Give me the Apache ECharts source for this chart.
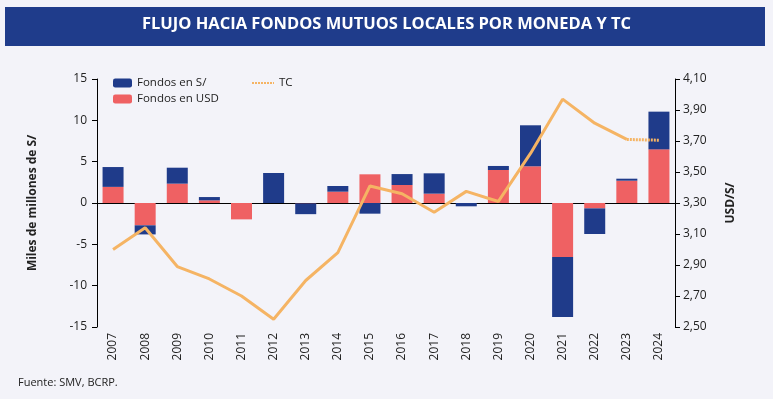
<!DOCTYPE html>
<html lang="es">
<head>
<meta charset="UTF-8">
<script src="https://cdn.jsdelivr.net/npm/echarts@6/dist/echarts.min.js"></script>
<title>Flujo hacia fondos mutuos locales</title>
<style>
  html, body { margin: 0; padding: 0; background: #f3f3f9; }
  #main { width: 773px; height: 399px; }
</style>
</head>
<body>
<div id="main"></div>
<script>
    // datos (miles de millones de S/ y TC fin de periodo)
    var years = ['2007', '2008', '2009', '2010', '2011', '2012', '2013', '2014', '2015',
                 '2016', '2017', '2018', '2019', '2020', '2021', '2022', '2023', '2024'];
    var fondosSoles = [2.4, -1.1, 1.93, 0.4, 0, 3.63, -1.3, 0.69, -1.29,
                       1.32, 2.46, -0.4, 0.49, 4.96, -7.26, -3.1, 0.24, 4.56];
    var fondosUSD = [1.95, -2.7, 2.34, 0.32, -1.98, 0, -0.05, 1.37, 3.47,
                     2.18, 1.13, 0, 3.99, 4.44, -6.53, -0.65, 2.7, 6.49];
    var tc = [3.00, 3.14, 2.89, 2.81, 2.70, 2.55, 2.80, 2.98, 3.41,
              3.36, 3.24, 3.375, 3.31, 3.62, 3.97, 3.815, 3.71, 3.705];

    var blue = '#1f3b8a';
    var red = '#ef6163';
    var orange = '#f5b464';
    var font = 'Open Sans';

    // la linea solida llega hasta 2023, el ultimo tramo va punteado
    var tcSolid = tc.map(function (v, i) { return i < tc.length - 1 ? v : '-'; });
    var tcDotted = tc.map(function (v, i) { return i >= tc.length - 2 ? v : '-'; });

    var chart = echarts.init(document.getElementById('main'));
    var option = {
        backgroundColor: '#f3f3f9',
        animation: false,
        textStyle: { fontFamily: font },
        graphic: [
            {
                type: 'rect',
                left: 5, top: 7,
                shape: { width: 760, height: 39 },
                style: { fill: '#1f3c8b' }
            },
            {
                type: 'text',
                left: 'center', top: 16,
                style: {
                    text: 'FLUJO HACIA FONDOS MUTUOS LOCALES POR MONEDA Y TC',
                    fill: '#fff',
                    font: 'bold 16.5px "Open Sans"'
                }
            },
            {
                type: 'text',
                left: 18, top: 377,
                style: { text: 'Fuente: SMV, BCRP.', fill: '#222', font: '11px "Open Sans"' }
            }
        ],
        legend: [
            {
                data: ['Fondos en S/', 'Fondos en USD'],
                orient: 'vertical',
                left: 108, top: 72,
                itemWidth: 19, itemHeight: 9, itemGap: 4,
                textStyle: { fontSize: 11.5, color: '#222', fontFamily: font }
            },
            {
                data: ['TC'],
                left: 246, top: 72,
                itemWidth: 22, itemHeight: 9,
                itemStyle: { opacity: 0 },
                textStyle: { fontSize: 11.5, color: '#222', fontFamily: font }
            }
        ],
        grid: { left: 97, right: 98, top: 79, bottom: 72 },
        xAxis: [
            {
                type: 'category',
                data: years,
                position: 'bottom',
                axisLine: { show: false, onZero: false },
                axisTick: { show: false },
                axisLabel: { rotate: 90, margin: 6, fontSize: 12, color: '#222' }
            },
            {
                type: 'category',
                data: years,
                axisLine: { onZero: true, onZeroAxisIndex: 0, lineStyle: { color: '#000', width: 1 } },
                axisTick: { length: 5, lineStyle: { color: '#000' } },
                axisLabel: { show: false }
            }
        ],
        yAxis: [
            {
                type: 'value',
                min: -15, max: 15, interval: 5,
                name: 'Miles de millones de S/',
                nameLocation: 'middle',
                nameGap: 58,
                nameTextStyle: { fontWeight: 'bold', fontSize: 12, color: '#222' },
                axisLine: { show: true, lineStyle: { color: '#000' } },
                axisTick: { show: true, length: 5, lineStyle: { color: '#000' } },
                splitLine: { show: false },
                axisLabel: { fontSize: 12, color: '#222', margin: 10 }
            },
            {
                type: 'value',
                min: 2.5, max: 4.1, interval: 0.2,
                name: 'USD/S/',
                nameLocation: 'middle',
                nameGap: 50,
                nameRotate: 90,
                nameTextStyle: { fontWeight: 'bold', fontSize: 12, color: '#222' },
                axisLine: { show: true, lineStyle: { color: '#000' } },
                axisTick: { show: true, length: 5, lineStyle: { color: '#000' } },
                splitLine: { show: false },
                axisLabel: {
                    fontSize: 12, color: '#222', margin: 8,
                    formatter: function (v) { return v.toFixed(2).replace('.', ','); }
                }
            }
        ],
        series: [
            {
                name: 'Fondos en USD',
                type: 'bar',
                stack: 'flujo',
                barWidth: 21,
                itemStyle: { color: red },
                data: fondosUSD
            },
            {
                name: 'Fondos en S/',
                type: 'bar',
                stack: 'flujo',
                barWidth: 21,
                itemStyle: { color: blue },
                data: fondosSoles
            },
            {
                name: 'TC linea',
                type: 'line',
                yAxisIndex: 1,
                symbol: 'none',
                lineStyle: { color: orange, width: 3 },
                itemStyle: { color: orange },
                data: tcSolid
            },
            {
                name: 'TC',
                type: 'line',
                yAxisIndex: 1,
                symbol: 'none',
                lineStyle: { color: orange, width: 3, type: [2, 1] },
                itemStyle: { color: orange },
                data: tcDotted
            }
        ]
    };
    chart.setOption(option);
</script>
</body>
</html>
